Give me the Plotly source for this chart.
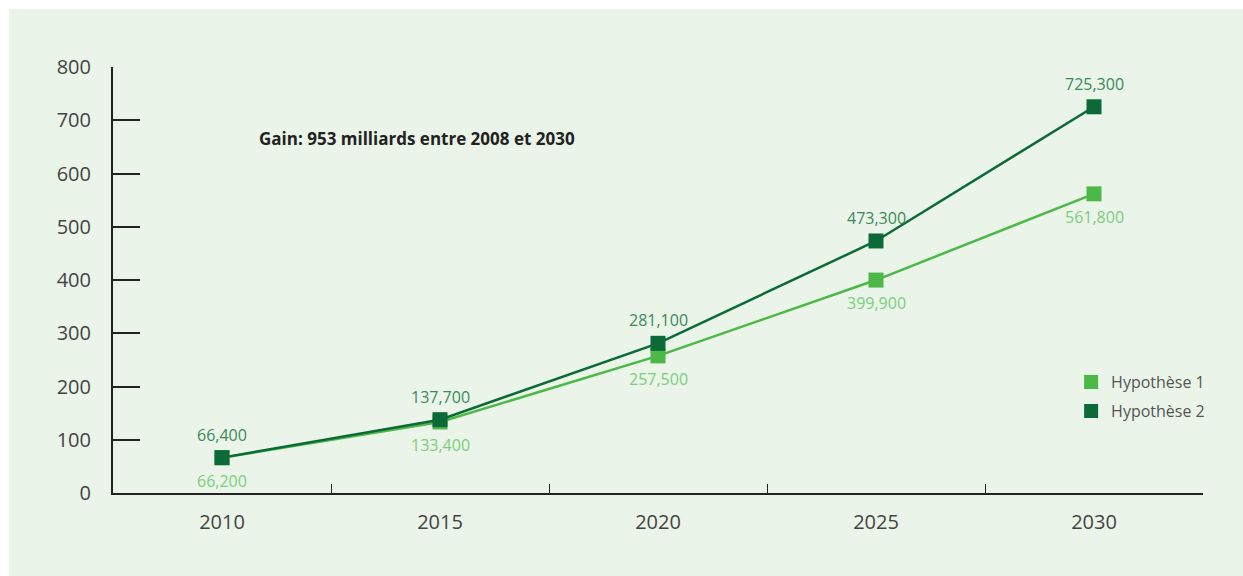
import plotly.graph_objects as go

# Data (values in thousands of millions)
years = ["2010", "2015", "2020", "2025", "2030"]
hyp1 = [66.2, 133.4, 257.5, 399.9, 561.8]
hyp2 = [66.4, 137.7, 281.1, 473.3, 725.3]
series_names = ["Hypothèse 1", "Hypothèse 2"]
y_ticks = [0, 100, 200, 300, 400, 500, 600, 700, 800]
note = "Gain: 953 milliards entre 2008 et 2030"

LIGHT = "#4cb848"
DARK = "#0b6a38"
LIGHT_TXT = "#7cce7e"
DARK_TXT = "#3a8a5c"
FONT = "Open Sans"


def fmt(v):
    return f"{v:.3f}".replace(".", ",")


fig = go.Figure()

fig.add_trace(go.Scatter(
    x=years, y=hyp1, mode="lines+markers",
    line=dict(color=LIGHT, width=2.5),
    marker=dict(symbol="square", size=15, color=LIGHT),
    showlegend=False, cliponaxis=False,
))
fig.add_trace(go.Scatter(
    x=years, y=hyp2, mode="lines+markers",
    line=dict(color=DARK, width=2.5),
    marker=dict(symbol="square", size=15, color=DARK),
    showlegend=False, cliponaxis=False,
))

# Value labels: Hypothèse 2 above its markers, Hypothèse 1 below
for vals, col, shift in [(hyp1, LIGHT_TXT, -23), (hyp2, DARK_TXT, 23)]:
    for i, v in enumerate(vals):
        fig.add_annotation(
            xref="x", yref="y", x=i, y=v, text=fmt(v),
            showarrow=False, yshift=shift,
            font=dict(family=FONT, size=16, color=col),
        )

# Legend entries as plain squares
for i, (name, col) in enumerate(zip(series_names, [LIGHT, DARK])):
    fig.add_trace(go.Scatter(
        x=[None], y=[None], mode="markers", name=name, legendgroup=f"g{i}",
        marker=dict(symbol="square", size=14, color=col),
    ))

fig.add_annotation(
    text=f"<b>{note}</b>", xref="paper", yref="paper",
    x=0.132, y=0.831, xanchor="left", yanchor="middle", showarrow=False,
    font=dict(family=FONT, size=17, color="#222222"),
)

# Light green panel behind the chart
fig.add_shape(
    type="rect", xref="paper", yref="paper", layer="below",
    x0=(9 - 113) / 1090, x1=(1243 - 113) / 1090,
    y0=-83 / 426, y1=(493 - 9) / 426,
    fillcolor="#eaf4e8", line=dict(width=0),
)

fig.update_layout(
    width=1243, height=576,
    margin=dict(l=113, r=40, t=67, b=83),
    paper_bgcolor="white", plot_bgcolor="rgba(0,0,0,0)",
    font=dict(family=FONT, color="#444444"),
    legend=dict(
        x=0.879, y=0.30, xanchor="left", yanchor="top",
        bgcolor="rgba(0,0,0,0)", font=dict(family=FONT, size=16, color="#555555"),
        itemwidth=30, tracegroupgap=5,
    ),
    xaxis=dict(
        type="category", range=[-0.5, 4.5],
        showgrid=False, zeroline=False,
        showline=True, linecolor="#222222", linewidth=1.5,
        ticks="inside", tickson="boundaries", ticklen=9, tickwidth=1.2,
        tickcolor="#222222",
        tickfont=dict(family=FONT, size=20, color="#444444"),
        ticklabelstandoff=10,
    ),
    yaxis=dict(
        range=[0, 800], tickvals=y_ticks,
        showgrid=False, zeroline=False,
        showline=True, linecolor="#222222", linewidth=2,
        ticks="inside", ticklen=27, tickwidth=2, tickcolor="#222222",
        tickfont=dict(family=FONT, size=20, color="#444444"),
        ticklabelstandoff=16,
    ),
)

fig.write_html("out.html")
